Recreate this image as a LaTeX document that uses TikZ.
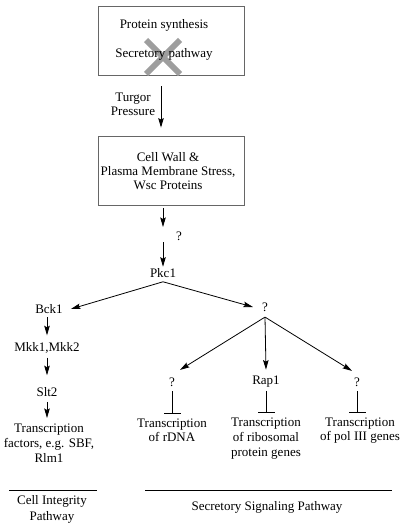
\documentclass[tikz,border=0pt]{standalone}
\usepackage{fontspec}
\setmainfont{Liberation Serif}
\usetikzlibrary{arrows.meta,calc}
\begin{document}
\begin{tikzpicture}[x=1pt,y=-1pt,
  txt/.style={font=\fontsize{13}{14}\selectfont, inner sep=0pt, align=center},
  arr/.style={-{Stealth[length=9.5pt,width=5.5pt,inset=1.5pt]}, line width=0.8pt},
  inh/.style={-{Bar[width=17pt,line width=0.8pt]}, line width=0.8pt},
  box/.style={draw=black!60, line width=0.8pt, minimum width=146pt, minimum height=69pt, inner sep=0pt},
  rule/.style={line width=0.8pt}]
\useasboundingbox (0,0) rectangle (400,527);
% top box
\node[box] (b1) at (171,40.5) {};
\draw[line width=6pt, black!38] (146,40) -- (180,74) (180,40) -- (146,74);
\node[txt] (ps) at (164,25) {Protein synthesis};
\node[txt] (sp) at (164,54) {Secretory pathway};
% second box
\node[box] (b2) at (171,170.5) {};
\node[txt] (cw) at (168,171) {Cell Wall \&\\Plasma Membrane Stress,\\Wsc Proteins};
\node[txt] (tp) at (133,104) {Turgor\\Pressure};
\draw[arr] ([xshift=-10pt,yshift=-11pt]b1.south) -- ([xshift=-10pt,yshift=8pt]b2.north);
% to Pkc1
\node[txt] (pkc) at (163,273) {Pkc1};
\node[txt] (qm) at (179,236) {?};
\coordinate (m) at (163,234.5);
\draw[arr] ([xshift=-8pt,yshift=-3pt]b2.south) -- ([yshift=7.5pt]m);
\draw[arr] ([yshift=-7.5pt]m) -- ([yshift=1.5pt]pkc.north);
% branches
\node[txt] (bck) at (49,309) {Bck1};
\node[txt] (q1) at (265,307) {?};
\draw[arr] ([yshift=-4pt]pkc.south) -- ([xshift=8pt]bck.east);
\draw[arr] ([yshift=-4pt]pkc.south) -- ([xshift=-9pt]q1.west);
% left column
\node[txt] (mkk) at (47,348) {Mkk1,Mkk2};
\node[txt] (slt) at (47,392) {Slt2};
\node[txt, font=\fontsize{13}{15}\selectfont] (tf) at (49,443) {Transcription\\factors, e.g. SBF,\\Rlm1};
\draw[arr] ([yshift=-3.5pt]bck.south -| mkk.north) -- ([yshift=7pt]mkk.north);
\draw[arr] ([yshift=-4pt]mkk.south) -- ([yshift=12pt]slt.north);
\draw[arr] ([yshift=-5pt]slt.south) -- ([yshift=5.5pt]tf.north -| slt.south);
% right fan
\node[txt] (q2) at (172,382) {?};
\node[txt] (rap) at (266,382) {Rap1};
\node[txt] (q3) at (357,382) {?};
\draw[arr] ([yshift=-5.5pt]q1.south) -- ([xshift=8pt,yshift=7.5pt]q2.north);
\draw[arr] ([yshift=-5.5pt]q1.south) -- ([yshift=6.5pt]rap.north);
\draw[arr] ([yshift=-5.5pt]q1.south) -- ([xshift=-5pt,yshift=6.5pt]q3.north);
\node[txt, font=\fontsize{13}{13.5}\selectfont] (rdna) at (172,430.5) {Transcription\\of rDNA};
\node[txt, font=\fontsize{13}{15}\selectfont] (ribo) at (266,439) {Transcription\\of ribosomal\\protein genes};
\node[txt, font=\fontsize{13}{14}\selectfont] (pol) at (360,431) {Transcription\\of pol III genes};
\draw[inh] ([yshift=-4.5pt]q2.south) -- ([yshift=5.5pt]rdna.north -| q2.south);
\draw[inh] ([yshift=-3pt]rap.south) -- ([yshift=5.5pt]ribo.north -| rap.south);
\draw[inh] ([yshift=-4.5pt]q3.south) -- ([yshift=5.5pt]pol.north -| q3.south);
% pathway labels
\coordinate (l1) at (9,490); \coordinate (l2) at (97,490);
\coordinate (r1) at (145,490); \coordinate (r2) at (392,490);
\draw[rule] (l1) -- (l2);
\draw[rule] (r1) -- (r2);
\node[txt, font=\fontsize{13}{16}\selectfont] (cip) at (52,509) {Cell Integrity\\Pathway};
\node[txt] (ssp) at (267,507) {Secretory Signaling Pathway};
\end{tikzpicture}
\end{document}
